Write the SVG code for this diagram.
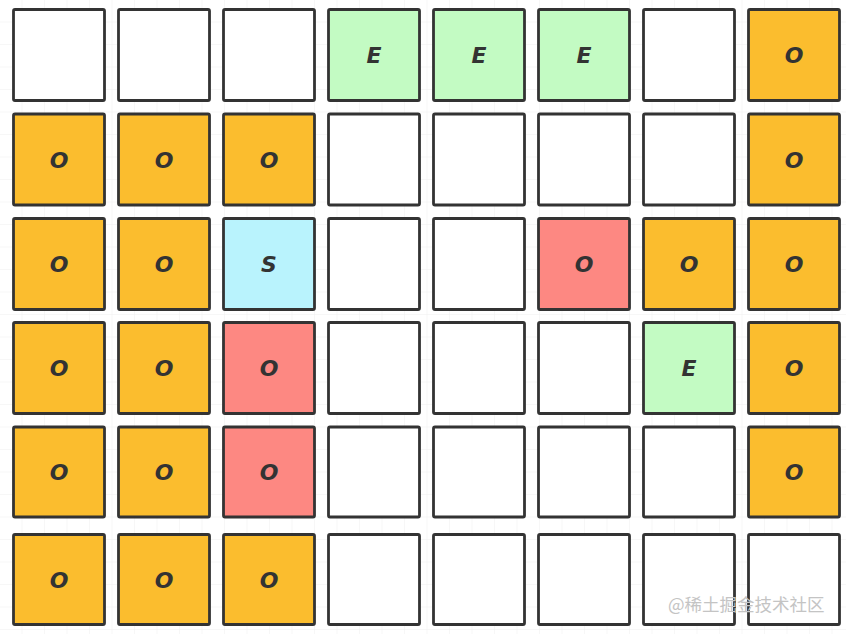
<svg xmlns="http://www.w3.org/2000/svg" width="846" height="634" viewBox="0 0 846 634">
<defs>
<pattern id="grid" width="22.5" height="22.5" patternUnits="userSpaceOnUse">
<path d="M22.5 0V22.5M0 22.5H22.5" fill="none" stroke="#efefef" stroke-width="1"/>
</pattern>
<style>
.c rect{stroke:#333;stroke-width:2.8;}
.w{fill:#ffffff;}
.o{fill:#fbbd2e;}
.e{fill:#c3fbc3;}
.s{fill:#b9f3fd;}
.r{fill:#fd8882;}
text.t{font-family:"DejaVu Sans",sans-serif;font-weight:bold;font-style:italic;font-size:22px;fill:#333;text-anchor:middle;}
</style>
</defs>
<rect width="846" height="634" fill="#ffffff"/>
<rect width="846" height="634" fill="url(#grid)"/>
<g class="c">
<g id="r1c1"><rect class="w" x="13.5" y="9.5" width="91" height="91" rx="1.5"/></g>
<g id="r1c2"><rect class="w" x="118.5" y="9.5" width="91" height="91" rx="1.5"/></g>
<g id="r1c3"><rect class="w" x="223.5" y="9.5" width="91" height="91" rx="1.5"/></g>
<g id="r1c4"><rect class="e" x="328.5" y="9.5" width="91" height="91" rx="1.5"/><text class="t" x="374" y="63">E</text></g>
<g id="r1c5"><rect class="e" x="433.5" y="9.5" width="91" height="91" rx="1.5"/><text class="t" x="479" y="63">E</text></g>
<g id="r1c6"><rect class="e" x="538.5" y="9.5" width="91" height="91" rx="1.5"/><text class="t" x="584" y="63">E</text></g>
<g id="r1c7"><rect class="w" x="643.5" y="9.5" width="91" height="91" rx="1.5"/></g>
<g id="r1c8"><rect class="o" x="748.5" y="9.5" width="91" height="91" rx="1.5"/><text class="t" x="794" y="63">O</text></g>

<g id="r2c1"><rect class="o" x="13.5" y="114" width="91" height="91" rx="1.5"/><text class="t" x="59" y="167.5">O</text></g>
<g id="r2c2"><rect class="o" x="118.5" y="114" width="91" height="91" rx="1.5"/><text class="t" x="164" y="167.5">O</text></g>
<g id="r2c3"><rect class="o" x="223.5" y="114" width="91" height="91" rx="1.5"/><text class="t" x="269" y="167.5">O</text></g>
<g id="r2c4"><rect class="w" x="328.5" y="114" width="91" height="91" rx="1.5"/></g>
<g id="r2c5"><rect class="w" x="433.5" y="114" width="91" height="91" rx="1.5"/></g>
<g id="r2c6"><rect class="w" x="538.5" y="114" width="91" height="91" rx="1.5"/></g>
<g id="r2c7"><rect class="w" x="643.5" y="114" width="91" height="91" rx="1.5"/></g>
<g id="r2c8"><rect class="o" x="748.5" y="114" width="91" height="91" rx="1.5"/><text class="t" x="794" y="167.5">O</text></g>

<g id="r3c1"><rect class="o" x="13.5" y="218.5" width="91" height="91" rx="1.5"/><text class="t" x="59" y="272">O</text></g>
<g id="r3c2"><rect class="o" x="118.5" y="218.5" width="91" height="91" rx="1.5"/><text class="t" x="164" y="272">O</text></g>
<g id="r3c3"><rect class="s" x="223.5" y="218.5" width="91" height="91" rx="1.5"/><text class="t" x="269" y="272">S</text></g>
<g id="r3c4"><rect class="w" x="328.5" y="218.5" width="91" height="91" rx="1.5"/></g>
<g id="r3c5"><rect class="w" x="433.5" y="218.5" width="91" height="91" rx="1.5"/></g>
<g id="r3c6"><rect class="r" x="538.5" y="218.5" width="91" height="91" rx="1.5"/><text class="t" x="584" y="272">O</text></g>
<g id="r3c7"><rect class="o" x="643.5" y="218.5" width="91" height="91" rx="1.5"/><text class="t" x="689" y="272">O</text></g>
<g id="r3c8"><rect class="o" x="748.5" y="218.5" width="91" height="91" rx="1.5"/><text class="t" x="794" y="272">O</text></g>

<g id="r4c1"><rect class="o" x="13.5" y="322.5" width="91" height="91" rx="1.5"/><text class="t" x="59" y="376">O</text></g>
<g id="r4c2"><rect class="o" x="118.5" y="322.5" width="91" height="91" rx="1.5"/><text class="t" x="164" y="376">O</text></g>
<g id="r4c3"><rect class="r" x="223.5" y="322.5" width="91" height="91" rx="1.5"/><text class="t" x="269" y="376">O</text></g>
<g id="r4c4"><rect class="w" x="328.5" y="322.5" width="91" height="91" rx="1.5"/></g>
<g id="r4c5"><rect class="w" x="433.5" y="322.5" width="91" height="91" rx="1.5"/></g>
<g id="r4c6"><rect class="w" x="538.5" y="322.5" width="91" height="91" rx="1.5"/></g>
<g id="r4c7"><rect class="e" x="643.5" y="322.5" width="91" height="91" rx="1.5"/><text class="t" x="689" y="376">E</text></g>
<g id="r4c8"><rect class="o" x="748.5" y="322.5" width="91" height="91" rx="1.5"/><text class="t" x="794" y="376">O</text></g>

<g id="r5c1"><rect class="o" x="13.5" y="427" width="91" height="90" rx="1.5"/><text class="t" x="59" y="480">O</text></g>
<g id="r5c2"><rect class="o" x="118.5" y="427" width="91" height="90" rx="1.5"/><text class="t" x="164" y="480">O</text></g>
<g id="r5c3"><rect class="r" x="223.5" y="427" width="91" height="90" rx="1.5"/><text class="t" x="269" y="480">O</text></g>
<g id="r5c4"><rect class="w" x="328.5" y="427" width="91" height="90" rx="1.5"/></g>
<g id="r5c5"><rect class="w" x="433.5" y="427" width="91" height="90" rx="1.5"/></g>
<g id="r5c6"><rect class="w" x="538.5" y="427" width="91" height="90" rx="1.5"/></g>
<g id="r5c7"><rect class="w" x="643.5" y="427" width="91" height="90" rx="1.5"/></g>
<g id="r5c8"><rect class="o" x="748.5" y="427" width="91" height="90" rx="1.5"/><text class="t" x="794" y="480">O</text></g>

<g id="r6c1"><rect class="o" x="13.5" y="534.5" width="91" height="90" rx="1.5"/><text class="t" x="59" y="587.5">O</text></g>
<g id="r6c2"><rect class="o" x="118.5" y="534.5" width="91" height="90" rx="1.5"/><text class="t" x="164" y="587.5">O</text></g>
<g id="r6c3"><rect class="o" x="223.5" y="534.5" width="91" height="90" rx="1.5"/><text class="t" x="269" y="587.5">O</text></g>
<g id="r6c4"><rect class="w" x="328.5" y="534.5" width="91" height="90" rx="1.5"/></g>
<g id="r6c5"><rect class="w" x="433.5" y="534.5" width="91" height="90" rx="1.5"/></g>
<g id="r6c6"><rect class="w" x="538.5" y="534.5" width="91" height="90" rx="1.5"/></g>
<g id="r6c7"><rect class="w" x="643.5" y="534.5" width="91" height="90" rx="1.5"/></g>
<g id="r6c8"><rect class="w" x="748.5" y="534.5" width="91" height="90" rx="1.5"/></g>
</g>
<g id="connectors"></g>
<text x="668" y="611" font-family="'Noto Sans CJK SC',sans-serif" font-size="17.5" fill="#c4c4c4">@稀土掘金技术社区</text>
</svg>
